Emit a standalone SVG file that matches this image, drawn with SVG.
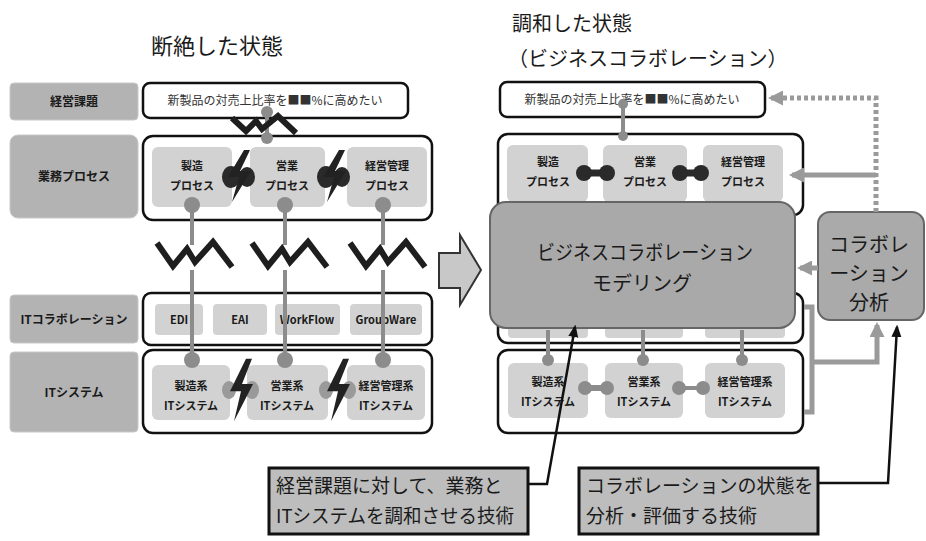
<svg xmlns="http://www.w3.org/2000/svg" width="926" height="541" viewBox="0 0 926 541">
<defs>
<style>
text{font-family:"Noto Sans CJK JP","Noto Sans",sans-serif;fill:#1a1a1a}
.t{font-size:22px}
.lbl{fill:#b3b3b3;stroke:#c8c8c8;stroke-width:1}
.lt{font-size:12px;font-weight:bold;text-anchor:middle}
.box{fill:#fff;stroke:#111;stroke-width:2.5}
.in{fill:#d2d2d2;stroke:none}
.it{font-size:11px;font-weight:bold;text-anchor:middle}
.gl{stroke:#8c8c8c;stroke-width:4;fill:none}
.gd{fill:#8c8c8c}
.zz{stroke:#1e1e1e;stroke-width:6;fill:none;stroke-linejoin:miter}
.bolt{fill:#222}
.ga{stroke:#9a9a9a;stroke-width:5;fill:none}
.ba{stroke:#111;stroke-width:2.5;fill:none}
.co{fill:#bdbdbd;stroke:#111;stroke-width:3}
.ct{font-size:19px}
</style>
<marker id="gah" viewBox="0 0 10 10" refX="8" refY="5" markerWidth="3" markerHeight="3" orient="auto"><path d="M0,0 L10,5 L0,10 Z" fill="#9a9a9a"/></marker>
<marker id="bah" viewBox="0 0 10 10" refX="8" refY="5" markerWidth="5" markerHeight="5" orient="auto"><path d="M0,1 L10,5 L0,9 Z" fill="#111"/></marker>
<g id="boltsym"><path class="bolt" d="M5,-26 L-11,1 L0,1 L-7,26 L12,-5 L1,-5 L11,-26 Z"/></g>
</defs>
<rect width="926" height="541" fill="#fff"/>

<!-- Titles -->
<text class="t" x="217" y="54" text-anchor="middle">断絶した状態</text>
<text x="512" y="31" style="font-size:20px">調和した状態</text>
<text x="508" y="66" style="font-size:20px">（ビジネスコラボレーション）</text>

<!-- Left row labels -->
<g id="lbl-goal"><rect class="lbl" x="10" y="83" width="128" height="37" rx="4"/><text class="lt" x="74" y="106">経営課題</text></g>
<g id="lbl-proc"><rect class="lbl" x="10" y="135" width="128" height="83" rx="8"/><text class="lt" x="74" y="181">業務プロセス</text></g>
<g id="lbl-itc"><rect class="lbl" x="10" y="295" width="128" height="48" rx="4"/><text class="lt" x="74" y="324">ITコラボレーション</text></g>
<g id="lbl-its"><rect class="lbl" x="10" y="352" width="128" height="80" rx="4"/><text class="lt" x="74" y="397">ITシステム</text></g>

<!-- Left goal -->
<g id="l-goal"><rect class="box" x="143" y="83" width="265" height="35" rx="7"/><text x="275" y="105" style="font-size:12px;text-anchor:middle;fill:#333">新製品の対売上比率を■■%に高めたい</text></g>

<!-- Left process -->
<g id="l-proc">
<rect class="box" x="143" y="136" width="289" height="84" rx="10"/>
<rect class="in" x="152" y="147" width="80" height="60" rx="6"/>
<rect class="in" x="250" y="147" width="75" height="60" rx="6"/>
<rect class="in" x="347" y="147" width="80" height="60" rx="6"/>
<text class="it" x="192" y="170">製造</text><text class="it" x="192" y="190">プロセス</text>
<text class="it" x="287" y="170">営業</text><text class="it" x="287" y="190">プロセス</text>
<text class="it" x="387" y="170">経営管理</text><text class="it" x="387" y="190">プロセス</text>
</g>

<!-- Left IT collaboration -->
<g id="l-itc">
<rect class="box" x="143" y="293" width="289" height="52" rx="8"/>
<rect class="in" x="155" y="304" width="48" height="31" rx="4" fill="#c4c4c4"/>
<rect class="in" x="213" y="304" width="54" height="31" rx="4"/>
<rect class="in" x="275" y="304" width="65" height="31" rx="4"/>
<rect class="in" x="350" y="304" width="72" height="31" rx="4"/>
<text class="it" x="179" y="324">EDI</text>
<text class="it" x="240" y="324">EAI</text>
<text class="it" x="307" y="324">WorkFlow</text>
<text class="it" x="386" y="324">GroupWare</text>
</g>

<!-- Left IT systems -->
<g id="l-its">
<rect class="box" x="143" y="350" width="289" height="83" rx="10"/>
<rect class="in" x="152" y="365" width="78" height="55" rx="6"/>
<rect class="in" x="247" y="365" width="81" height="55" rx="6"/>
<rect class="in" x="347" y="365" width="78" height="55" rx="6"/>
<text class="it" x="191" y="390">製造系</text><text class="it" x="191" y="410">ITシステム</text>
<text class="it" x="287" y="390">営業系</text><text class="it" x="287" y="410">ITシステム</text>
<text class="it" x="386" y="390">経営管理系</text><text class="it" x="386" y="410">ITシステム</text>
</g>

<!-- Left connectors -->
<g id="l-connectors">
<path class="gl" d="M267,108 V142 M192,205 V245 M192,270 V360 M285,205 V245 M285,270 V360 M383,205 V245 M383,270 V360"/>
<circle class="gd" cx="267" cy="112" r="6"/><circle class="gd" cx="267" cy="138" r="6"/>
<circle class="gd" cx="192" cy="205" r="8"/><circle class="gd" cx="285" cy="205" r="8"/><circle class="gd" cx="383" cy="205" r="8"/>
<circle class="gd" cx="192" cy="360" r="8"/><circle class="gd" cx="285" cy="360" r="8"/><circle class="gd" cx="383" cy="360" r="8"/>
<path class="zz" d="M232,118 L246,131 L256,121 L262,129 L278,116 L296,133"/>
<path class="zz" d="M157,243 L173,266 L187,249 L195,262 L213,242 L232,267"/>
<path class="zz" d="M252,243 L268,266 L282,249 L290,262 L308,242 L327,267"/>
<path class="zz" d="M350,243 L366,266 L380,249 L388,262 L406,242 L425,267"/>
<ellipse cx="231" cy="177" rx="9" ry="11" fill="#2a2a2a"/><ellipse cx="247" cy="177" rx="8" ry="10" fill="#2a2a2a"/>
<use href="#boltsym" x="239" y="176"/>
<ellipse cx="326" cy="177" rx="9" ry="11" fill="#2a2a2a"/><ellipse cx="342" cy="177" rx="8" ry="10" fill="#2a2a2a"/>
<use href="#boltsym" x="334" y="176"/>
<ellipse cx="229" cy="390" rx="7" ry="9" fill="#9a9a9a"/><ellipse cx="252" cy="390" rx="7" ry="9" fill="#9a9a9a"/>
<use href="#boltsym" x="241" y="390" transform="translate(241 390) scale(1 1.2) translate(-241 -390)"/>
<ellipse cx="326" cy="390" rx="7" ry="9" fill="#9a9a9a"/><ellipse cx="349" cy="390" rx="7" ry="9" fill="#9a9a9a"/>
<use href="#boltsym" x="338" y="390" transform="translate(338 390) scale(1 1.2) translate(-338 -390)"/>
</g>

<!-- Big arrow -->
<g id="big-arrow"><path d="M439,253 H460 V235 L481,270 L460,305 V288 H439 Z" fill="#c8c8c8" stroke="#333" stroke-width="2"/></g>

<!-- Right goal -->
<g id="r-goal"><rect class="box" x="500" y="82" width="265" height="35" rx="7"/><text x="632" y="104" style="font-size:12px;text-anchor:middle;fill:#333">新製品の対売上比率を■■%に高めたい</text></g>

<!-- Right process -->
<g id="r-proc">
<rect class="box" x="498" y="134" width="305" height="81" rx="10"/>
<rect class="in" x="507" y="145" width="81" height="57" rx="6"/>
<rect class="in" x="603" y="145" width="84" height="57" rx="6"/>
<rect class="in" x="703" y="145" width="80" height="57" rx="6"/>
<text class="it" x="548" y="166">製造</text><text class="it" x="548" y="186">プロセス</text>
<text class="it" x="645" y="166">営業</text><text class="it" x="645" y="186">プロセス</text>
<text class="it" x="743" y="166">経営管理</text><text class="it" x="743" y="186">プロセス</text>
<path d="M583,173 H608" stroke="#2a2a2a" stroke-width="7"/><circle cx="584" cy="173" r="8" fill="#2a2a2a"/><circle cx="607" cy="173" r="8" fill="#2a2a2a"/>
<path d="M679,173 H702" stroke="#2a2a2a" stroke-width="7"/><circle cx="680" cy="173" r="8" fill="#2a2a2a"/><circle cx="701" cy="173" r="8" fill="#2a2a2a"/>
</g>

<!-- Right IT collaboration (hidden layer) -->
<g id="r-itc">
<rect class="box" x="498" y="293" width="305" height="50" rx="10"/>
<rect class="in" x="508" y="300" width="80" height="38" rx="4"/>
<rect class="in" x="605" y="300" width="78" height="38" rx="4"/>
<rect class="in" x="705" y="300" width="80" height="38" rx="4"/>
</g>

<!-- Modeling -->
<g id="modeling">
<rect x="490" y="202" width="305" height="126" rx="16" fill="#a9a9a9" stroke="#666" stroke-width="2"/>
<text x="537" y="260" style="font-size:20px" textLength="216" lengthAdjust="spacingAndGlyphs">ビジネスコラボレーション</text>
<text x="642" y="291" style="font-size:20px;text-anchor:middle">モデリング</text>
</g>

<!-- Right IT systems -->
<g id="r-its">
<rect class="box" x="498" y="350" width="305" height="83" rx="10"/>
<rect class="in" x="508" y="363" width="80" height="55" rx="6"/>
<rect class="in" x="605" y="363" width="78" height="55" rx="6"/>
<rect class="in" x="705" y="363" width="80" height="55" rx="6"/>
<text class="it" x="548" y="386">製造系</text><text class="it" x="548" y="406">ITシステム</text>
<text class="it" x="644" y="386">営業系</text><text class="it" x="644" y="406">ITシステム</text>
<text class="it" x="745" y="386">経営管理系</text><text class="it" x="745" y="406">ITシステム</text>
<path d="M584,388 H608" stroke="#8c8c8c" stroke-width="6"/><circle cx="585" cy="388" r="7" fill="#8c8c8c"/><circle cx="607" cy="388" r="7" fill="#8c8c8c"/>
<path d="M678,388 H704" stroke="#8c8c8c" stroke-width="4"/><circle cx="679" cy="388" r="7" fill="#8c8c8c"/><circle cx="703" cy="388" r="7" fill="#8c8c8c"/>
</g>

<!-- Analysis -->
<g id="analysis">
<rect x="818" y="212" width="106" height="108" rx="12" fill="#aaa" stroke="#666" stroke-width="2"/>
<text x="869" y="252" style="font-size:20px;text-anchor:middle">コラボレ</text>
<text x="869" y="281" style="font-size:20px;text-anchor:middle">ーション</text>
<text x="869" y="310" style="font-size:20px;text-anchor:middle">分析</text>
</g>

<!-- Right connectors -->
<g id="r-connectors">
<path class="gl" d="M623,100 V140 M548,330 V360 M643,330 V360 M742,330 V360"/>
<circle class="gd" cx="623" cy="104" r="5"/><circle class="gd" cx="623" cy="136" r="5"/>
<circle class="gd" cx="548" cy="360" r="6"/><circle class="gd" cx="643" cy="360" r="6"/><circle class="gd" cx="742" cy="360" r="6"/>
<path class="ga" d="M876,212 V98 H771" stroke-dasharray="4 3" marker-end="url(#gah)"/>
<path class="ga" d="M876,175 H792" marker-end="url(#gah)"/>
<path class="ga" d="M818,268 H800" marker-end="url(#gah)"/>
<path class="ga" d="M804,307 H812 V412 H804 M812,362 H877 V325" marker-end="url(#gah)"/>
<path class="ba" d="M528,484 H547 L575,327" marker-end="url(#bah)"/>
<path class="ba" d="M818,483 H888 L897,327" marker-end="url(#bah)"/>
</g>

<!-- Callouts -->
<g id="callout-1"><rect class="co" x="269" y="468" width="259" height="66"/><text class="ct" x="276" y="493">経営課題に対して、業務と</text><text class="ct" x="276" y="523" textLength="238" lengthAdjust="spacingAndGlyphs">ITシステムを調和させる技術</text></g>
<g id="callout-2"><rect class="co" x="579" y="468" width="239" height="66"/><text class="ct" x="586" y="493">コラボレーションの状態を</text><text class="ct" x="586" y="523">分析・評価する技術</text></g>
</svg>
